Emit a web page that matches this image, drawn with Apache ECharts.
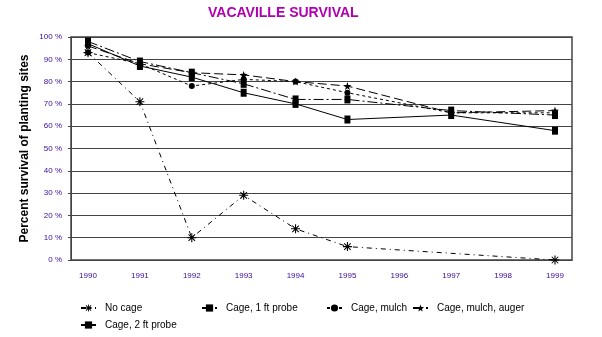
<!DOCTYPE html>
<html>
<head>
<meta charset="utf-8">
<script src="https://cdn.jsdelivr.net/npm/echarts@6/dist/echarts.min.js"></script>
<style>html,body{margin:0;padding:0;background:#fff;}#c{width:602px;height:337px;}</style>
</head>
<body>
<div id="c"></div>
<script>
var years = [1990, 1991, 1992, 1993, 1994, 1995, 1996, 1997, 1998, 1999];
var noCage = [93, 71, 10, 29, 14, 6, null, null, null, 0];
var cage1ft = [98, 89, 84, 79, 72, 72, null, 67, null, 65];
var cageMulch = [93, 88, 78, 81, 80, 75, null, 66, null, 66];
var cageMulchAuger = [96, 88, 84, 83, 80, 78, null, 66, null, 67];
var cage2ft = [97, 87, 82, 75, 70, 63, null, 65, null, 58];
var yTicks = [0, 10, 20, 30, 40, 50, 60, 70, 80, 90, 100];

var purple = '#3a0a9a';
var asterisk = 'path://M0,4.4L10,4.4L10,5.6L0,5.6Z M4.4,0L5.6,0L5.6,10L4.4,10Z M1,1.8L1.8,1L9,8.2L8.2,9Z M8.2,1L9,1.8L1.8,9L1,8.2Z';
var star = 'path://M5,0L6.2,3.6L10,3.8L7,6.1L8.1,9.8L5,7.6L1.9,9.8L3,6.1L0,3.8L3.8,3.6Z';

function pairs(arr) { return years.map(function (y, i) { return [y, arr[i]]; }); }

function mk(name, arr, symbol, size, dash) {
  return {
    name: name, type: 'line', data: pairs(arr), connectNulls: true,
    symbol: symbol, symbolSize: size, showSymbol: true,
    itemStyle: { color: '#000' },
    lineStyle: { color: '#000', width: 1, type: dash },
    emphasis: { disabled: true }, animation: false
  };
}

function leg(name, left, top) {
  return {
    data: [name], left: left, top: top, itemWidth: 15, itemHeight: 9,
    textStyle: { fontFamily: 'Liberation Sans', fontSize: 10, color: '#000', padding: [0, 0, 0, 4] }
  };
}

var chart = echarts.init(document.getElementById('c'));
chart.setOption({
  backgroundColor: '#fff',
  title: {
    text: 'VACAVILLE SURVIVAL', left: 203, top: 1,
    textStyle: { fontFamily: 'Liberation Sans', fontSize: 14, fontWeight: 'bold', color: '#b000b0' }
  },
  legend: [
    leg('No cage', 75, 298),
    leg('Cage, 1 ft probe', 196, 298),
    leg('Cage, mulch', 321, 298),
    leg('Cage, mulch, auger', 407, 298),
    leg('Cage, 2 ft probe', 75, 315)
  ],
  grid: {
    left: 71, right: 30, top: 37, bottom: 77,
    show: true, borderColor: '#444', borderWidth: 1.5
  },
  xAxis: {
    type: 'value', min: 1989.672, max: 1999.328,
    splitNumber: 10, minInterval: 1, maxInterval: 1,
    splitLine: { show: false }, axisTick: { show: false },
    axisLine: { show: true, lineStyle: { color: '#444' } },
    axisLabel: {
      color: purple, fontFamily: 'Liberation Sans', fontSize: 8, margin: 12,
      formatter: function (v) { return (Math.abs(v - Math.round(v)) < 1e-6) ? String(Math.round(v)) : ''; }
    }
  },
  yAxis: {
    type: 'value', min: yTicks[0], max: yTicks[yTicks.length - 1], interval: 10,
    name: 'Percent survival of planting sites', nameLocation: 'middle', nameRotate: 90, nameGap: 40,
    nameMoveOverlap: false,
    nameTextStyle: { fontFamily: 'Liberation Sans', fontSize: 12, fontWeight: 'bold', color: '#000' },
    axisLine: { show: true, lineStyle: { color: '#444' } },
    axisTick: { show: true, length: 3, lineStyle: { color: '#444' } },
    splitLine: { show: true, lineStyle: { color: '#444', width: 1 } },
    axisLabel: { color: purple, fontFamily: 'Liberation Sans', fontSize: 8, margin: 9, formatter: '{value} %' }
  },
  series: [
    mk('No cage', noCage, asterisk, 9, [5, 4, 1, 4]),
    mk('Cage, 1 ft probe', cage1ft, 'rect', [6, 8], [10, 3, 2, 3]),
    mk('Cage, mulch', cageMulch, 'circle', 6, [3, 3]),
    mk('Cage, mulch, auger', cageMulchAuger, star, 8, [9, 4]),
    mk('Cage, 2 ft probe', cage2ft, 'rect', [6, 8], 'solid')
  ]
});
</script>
</body>
</html>
